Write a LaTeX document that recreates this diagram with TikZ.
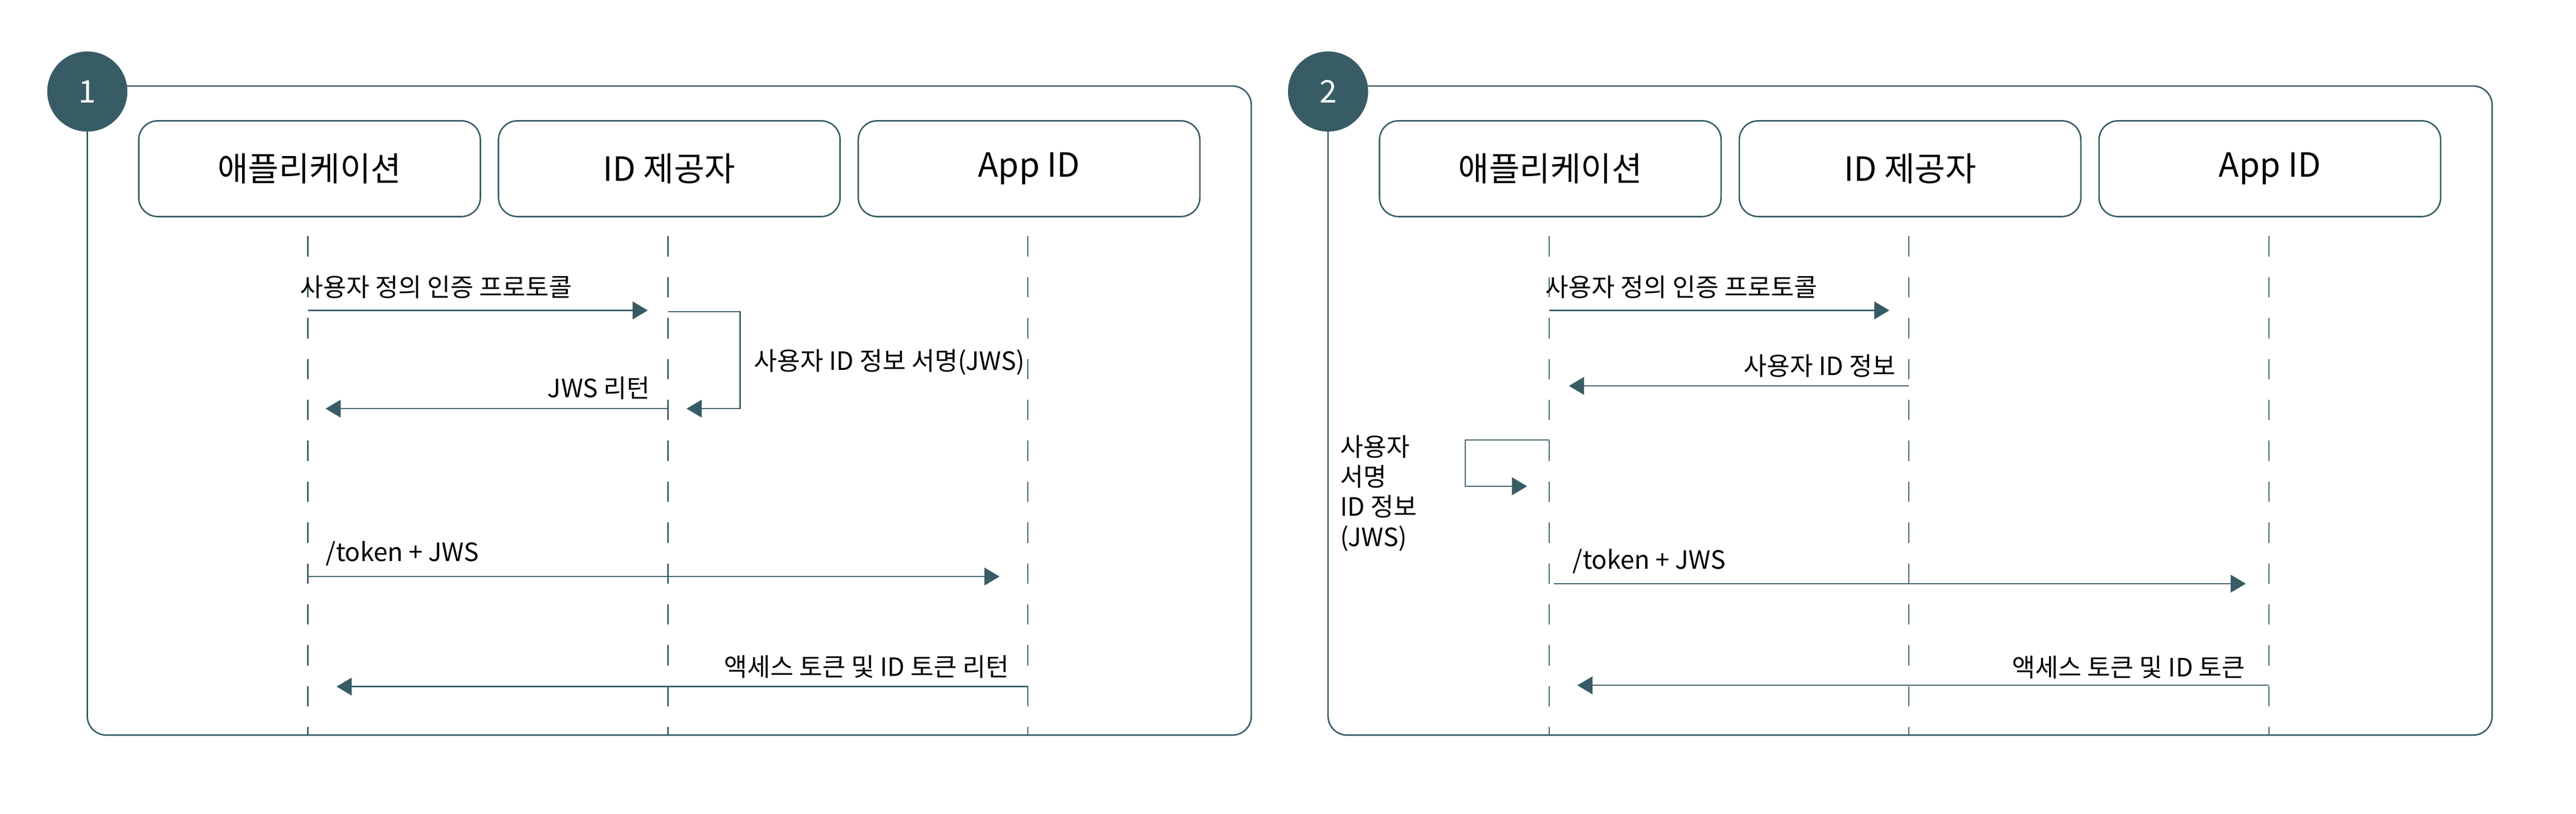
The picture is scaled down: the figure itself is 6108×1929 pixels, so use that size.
\documentclass[tikz,border=0pt]{standalone}
\usepackage{fontspec}
\setmainfont{Noto Sans CJK KR}
\usetikzlibrary{arrows.meta}
\definecolor{seqteal}{RGB}{56, 92, 102}

\begin{document}
\begin{tikzpicture}[x=0.1mm, y=-0.1mm,
  actor/.style={draw=seqteal, line width=0.35mm, rounded corners=4.5mm,
    minimum width=81mm, minimum height=22.7mm, inner sep=0pt,
    font=\fontsize{22.5}{27}\selectfont},
  lifeline/.style={seqteal, line width=0.3mm, dash pattern=on 4.8mm off 4.9mm},
  msg/.style={seqteal, line width=0.3mm, -{Triangle[length=3.6mm, width=4.2mm]}},
  msglabel/.style={inner sep=0pt, font=\fontsize{17}{20.2}\selectfont},
  badge/.style={circle, fill=seqteal, minimum size=19mm, inner sep=0pt,
    text=white, font=\fontsize{21}{25}\selectfont},
  panelbox/.style={seqteal, line width=0.35mm, rounded corners=4.5mm}]
  \useasboundingbox (0,0) rectangle (6108,1929);

  % PANEL 1 (left): ID provider signs the user ID information
  \draw[panelbox] (207,204) rectangle (2967,1743);
  \node[badge] (n1) at (207,217) {1};

  % Participants
  \node[actor] (app1) at (734,400) {애플리케이션};
  \node[actor] (idp1) at (1587,400) {ID 제공자};
  \node[actor] (appid1) at (2440,400) {App ID};

  % Lifelines
  \draw[lifeline] (730,560) -- (730,1743);
  \draw[lifeline] (1584,560) -- (1584,1743);
  \draw[lifeline] (2437,560) -- (2437,1743);

  % Custom authentication protocol
  \coordinate (p1a) at (730,736);
  \coordinate (p1b) at (1536,736);
  \draw[msg] (p1a) -- (p1b);
  \node[msglabel, anchor=base west] (p1alab) at (711,703) {사용자 정의 인증 프로토콜};

  % Signing loop on the ID provider
  \coordinate (p1c) at (1584,739);
  \coordinate (p1d) at (1755,969);
  \coordinate (p1e) at (1628,969);
  \draw[msg] (p1c) -| (p1d) -- (p1e);
  \node[msglabel, anchor=base west] (p1clab) at (1787,878) {사용자 ID 정보 서명(JWS)};

  % JWS back to the application
  \coordinate (p1f) at (1584,969);
  \coordinate (p1g) at (772,969);
  \draw[msg] (p1f) -- (p1g);
  \node[msglabel, anchor=base east] (p1flab) at (1542,943) {JWS 리턴};

  % Token request
  \coordinate (p1h) at (730,1367);
  \coordinate (p1i) at (2370,1367);
  \draw[msg] (p1h) -- (p1i);
  \node[msglabel, anchor=base west] (p1hlab) at (772,1331) {/token + JWS};

  % Tokens returned
  \coordinate (p1j) at (2437,1628);
  \coordinate (p1k) at (798,1628);
  \draw[msg] (p1j) -- (p1k);
  \node[msglabel, anchor=base east] (p1jlab) at (2393,1603) {액세스 토큰 및 ID 토큰 리턴};

  % PANEL 2 (right): application signs the user ID information
  \draw[panelbox] (3149,204) rectangle (5909,1743);
  \node[badge] (n2) at (3149,217) {2};

  % Participants
  \node[actor] (app2) at (3676,400) {애플리케이션};
  \node[actor] (idp2) at (4529,400) {ID 제공자};
  \node[actor] (appid2) at (5382,400) {App ID};

  % Lifelines
  \draw[lifeline] (3673,560) -- (3673,1743);
  \draw[lifeline] (4526,560) -- (4526,1743);
  \draw[lifeline] (5380,560) -- (5380,1743);

  % Custom authentication protocol
  \coordinate (p2a) at (3673,736);
  \coordinate (p2b) at (4480,736);
  \draw[msg] (p2a) -- (p2b);
  \node[msglabel, anchor=base west] (p2alab) at (3664,703) {사용자 정의 인증 프로토콜};

  % User ID information back to the application
  \coordinate (p2c) at (4526,915);
  \coordinate (p2d) at (3720,915);
  \draw[msg] (p2c) -- (p2d);
  \node[msglabel, anchor=base east] (p2clab) at (4495,890) {사용자 ID 정보};

  % Signing loop on the application
  \coordinate (p2e) at (3673,1043);
  \coordinate (p2f) at (3474,1153);
  \coordinate (p2g) at (3621,1153);
  \draw[msg] (p2e) -| (p2f) -- (p2g);
  \node[msglabel, anchor=base west, align=left] (p2elab) at (3177,1295)
    {사용자\\서명\\ID 정보\\(JWS)};

  % Token request
  \coordinate (p2h) at (3684,1384);
  \coordinate (p2i) at (5325,1384);
  \draw[msg] (p2h) -- (p2i);
  \node[msglabel, anchor=base west] (p2hlab) at (3728,1349) {/token + JWS};

  % Tokens returned
  \coordinate (p2j) at (5380,1625);
  \coordinate (p2k) at (3740,1625);
  \draw[msg] (p2j) -- (p2k);
  \node[msglabel, anchor=base east] (p2jlab) at (5324,1604) {액세스 토큰 및 ID 토큰};
\end{tikzpicture}
\end{document}
